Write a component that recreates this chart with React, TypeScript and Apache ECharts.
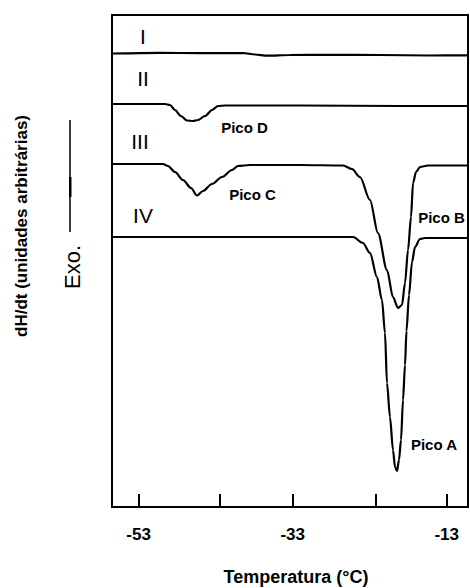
import React, { useEffect, useRef } from "react";
import * as echarts from "echarts";

// Temperature (°C) and signal (arbitrary units) for each DSC curve
const curveI_T = [-56.46, -50.23, -45.04, -39.45, -37.89, -36.33, -33.35, -28.15, -21.67, -15.17, -10.23];
const curveI_V = [92.17, 92.32, 92.24, 92.28, 91.97, 91.73, 91.87, 91.91, 91.87, 91.77, 91.81];

const curveII_T = [-56.46, -49.58, -48.93, -48.28, -47.5, -46.72, -45.94, -45.29, -44.38, -43.47, -42.69, -41.78, -32.05, -19.06, -10.23];
const curveII_V = [81.91, 81.91, 81.71, 80.69, 79.47, 78.56, 78.46, 78.66, 79.47, 80.69, 81.5, 81.61, 81.61, 81.5, 81.5];

const curveIII_T = [-56.46, -49.84, -49.19, -48.28, -47.24, -46.2, -45.42, -44.65, -43.48, -42.18, -40.88, -40.1, -38.54, -32.05, -26.46, -25.29, -24.26, -22.96, -21.92, -20.75, -19.97, -19.32, -18.8, -18.41, -18.02, -17.63, -17.37, -16.98, -16.46, -15.42, -10.23];
const curveIII_V = [69.72, 69.72, 69.31, 68.09, 66.46, 64.84, 63.31, 64.23, 65.65, 67.07, 68.5, 69.31, 69.51, 69.51, 69.41, 68.7, 67.07, 62.4, 55.69, 48.17, 42.68, 40.45, 41.06, 45.53, 52.24, 58.94, 65.85, 68.09, 69.11, 69.41, 69.41];

const curveIV_T = [-56.46, -32.05, -25.16, -23.87, -22.96, -22.05, -21.4, -21.01, -20.75, -20.36, -19.97, -19.71, -19.45, -19.19, -18.93, -18.67, -18.41, -18.22, -17.89, -17.5, -17.11, -16.46, -15.81, -10.23];
const curveIV_V = [54.88, 54.88, 54.88, 53.66, 51.63, 46.75, 42.07, 35.37, 25.2, 18.29, 11.59, 8.13, 7.32, 9.55, 13.62, 21.75, 28.86, 35.77, 43.09, 49.8, 52.85, 54.47, 54.67, 54.67];

const tickValues = [-53, -42.5, -33, -22.2, -13];
const labelValues = [-53, -33, -13];

const xMin = -56.46;
const xMax = -10.23;

const curveNames = ["I", "II", "III", "IV"];
const peakNames = ["Pico D", "Pico C", "Pico B", "Pico A"];

const FONT = '"Liberation Sans", Arial, sans-serif';

function zip(t: number[], v: number[]) {
  return t.map((x, i) => [x, v[i]]);
}

function txt(text: string, x: number, y: number, size: number, bold: boolean, rotation = 0) {
  return {
    type: "text",
    x,
    y,
    rotation,
    style: {
      text,
      fill: "#000",
      font: `${bold ? "bold " : ""}${size}px ${FONT}`,
      fontSize: size,
      fontWeight: bold ? "bold" : "normal",
      fontFamily: FONT,
      align: "center",
      verticalAlign: "middle",
      textAlign: "center",
      textVerticalAlign: "middle",
    },
  };
}

export default function App() {
  const ref = useRef<HTMLDivElement>(null);

  useEffect(() => {
    if (!ref.current) return;
    const chart = echarts.init(ref.current, null, { renderer: "svg" });

    const lineSeries = [
      zip(curveI_T, curveI_V),
      zip(curveII_T, curveII_V),
      zip(curveIII_T, curveIII_V),
      zip(curveIV_T, curveIV_V),
    ].map((data, i) => ({
      type: "line",
      name: curveNames[i],
      data,
      showSymbol: false,
      symbol: "none",
      smooth: 0.3,
      smoothMonotone: "x",
      lineStyle: { color: "#000", width: 2.2 },
      z: 3,
    }));

    chart.setOption({
      animation: false,
      backgroundColor: "#fff",
      grid: {
        left: 112,
        top: 15,
        width: 356,
        height: 492,
        show: true,
        borderColor: "#000",
        borderWidth: 2,
        backgroundColor: "transparent",
      },
      xAxis: {
        type: "value",
        min: xMin,
        max: xMax,
        axisLine: { show: false },
        splitLine: { show: false },
        axisTick: {
          show: true,
          inside: true,
          length: 13,
          customValues: tickValues,
          lineStyle: { color: "#000", width: 2 },
        },
        axisLabel: {
          customValues: labelValues,
          margin: 19,
          color: "#000",
          fontSize: 17,
          fontWeight: "bold",
          fontFamily: FONT,
          formatter: (v: number) => String(v),
        },
      },
      yAxis: {
        type: "value",
        min: 0,
        max: 100,
        show: false,
        splitLine: { show: false },
      },
      series: lineSeries,
      graphic: [
        txt(curveNames[0], 143, 36, 21, false),
        txt(curveNames[1], 143, 78, 21, false),
        txt(curveNames[2], 140, 141, 21, false),
        txt(curveNames[3], 143, 215, 21, false),
        txt(peakNames[0], 244.5, 127, 15, true),
        txt(peakNames[1], 252.5, 194, 15, true),
        txt(peakNames[2], 441.5, 217, 15, true),
        txt(peakNames[3], 434, 444, 15, true),
        txt("dH/dt (unidades arbitrárias)", 21, 226, 17, true, Math.PI / 2),
        txt("Exo.", 72, 267, 22, false, Math.PI / 2),
        txt("Temperatura (°C)", 296, 577, 18, true),
        {
          type: "line",
          shape: { x1: 70, y1: 120, x2: 70, y2: 232 },
          style: { stroke: "#000", lineWidth: 1.5 },
        },
        {
          type: "rect",
          shape: { x: 69, y: 177, width: 2.5, height: 20 },
          style: { fill: "#000" },
        },
      ],
    });

    return () => chart.dispose();
  }, []);

  return (
    <div
      ref={ref}
      style={{ position: "fixed", left: 0, top: 0, width: 470, height: 588, background: "#fff" }}
    />
  );
}
